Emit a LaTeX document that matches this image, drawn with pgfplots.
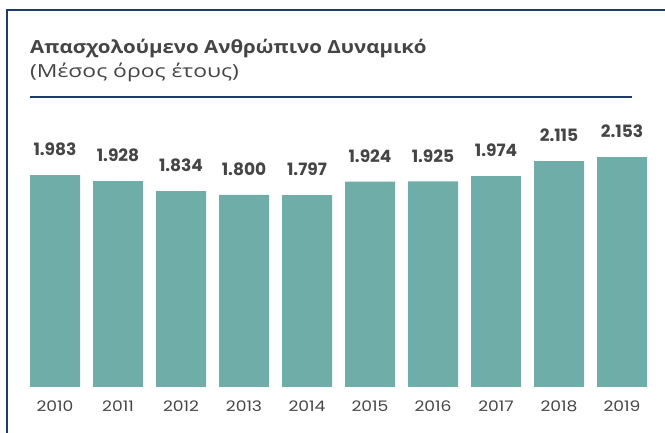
\documentclass[border=0pt]{standalone}
\usepackage{fontspec}
\setmainfont{Poppins}
\newfontfamily\titlefont[FakeStretch=1.14]{Open Sans}
\newfontfamily\subfont[FakeStretch=1.27]{Open Sans}
\newfontfamily\yearfont[FakeStretch=1.18]{Poppins}
\usepackage{pgfplots}
\usepackage{pgfplotstable}
\pgfplotsset{compat=1.18}
\definecolor{barc}{HTML}{6FADA8}
\definecolor{navy}{HTML}{1F3A6E}
\definecolor{txt}{HTML}{454545}
\pgfplotstableread{
x y lab
0 1983 1.983
1 1928 1.928
2 1834 1.834
3 1800 1.800
4 1797 1.797
5 1924 1.924
6 1925 1.925
7 1974 1.974
8 2115 2.115
9 2153 2.153
}\datatable
\begin{document}
\begin{tikzpicture}[x=1pt,y=1pt]
\path[use as bounding box] (0,0) rectangle (665,433);
\draw[navy, line width=1.5pt] (7,0) -- (7,423) -- (665,423);
\node[anchor=base west, inner sep=0, font=\titlefont\fontsize{18}{22}\selectfont\bfseries, text=txt] at (30,379) {Απασχολούμενο Ανθρώπινο Δυναμικό};
\node[anchor=base west, inner sep=0, font=\subfont\fontsize{18}{22}\selectfont, text=txt] at (30,355) {(Μέσος όρος έτους)};
\draw[navy, line width=2pt] (30,336) -- (632,336);
\begin{axis}[
  at={(23.5pt,46pt)}, anchor=south west,
  scale only axis, width=630pt, height=267pt,
  xmin=-0.5, xmax=9.5, ymin=0, ymax=2500,
  axis line style={draw=none},
  ytick=\empty,
  xtick=data,
  xticklabels={2010,2011,2012,2013,2014,2015,2016,2017,2018,2019},
  major tick length=0pt,
  xticklabel style={font=\yearfont\fontsize{14.5}{18}\selectfont, text=txt, inner sep=0pt, yshift=-14pt},
  ybar, bar width=50pt,
  clip=false,
  nodes near coords,
  point meta=explicit symbolic,
  nodes near coords style={font=\fontsize{17}{20}\selectfont\bfseries, text=txt, inner sep=0pt, anchor=south, yshift=19pt},
]
\addplot[fill=barc, draw=none] table[x=x, y=y, meta=lab] {\datatable};
\end{axis}
\end{tikzpicture}
\end{document}
